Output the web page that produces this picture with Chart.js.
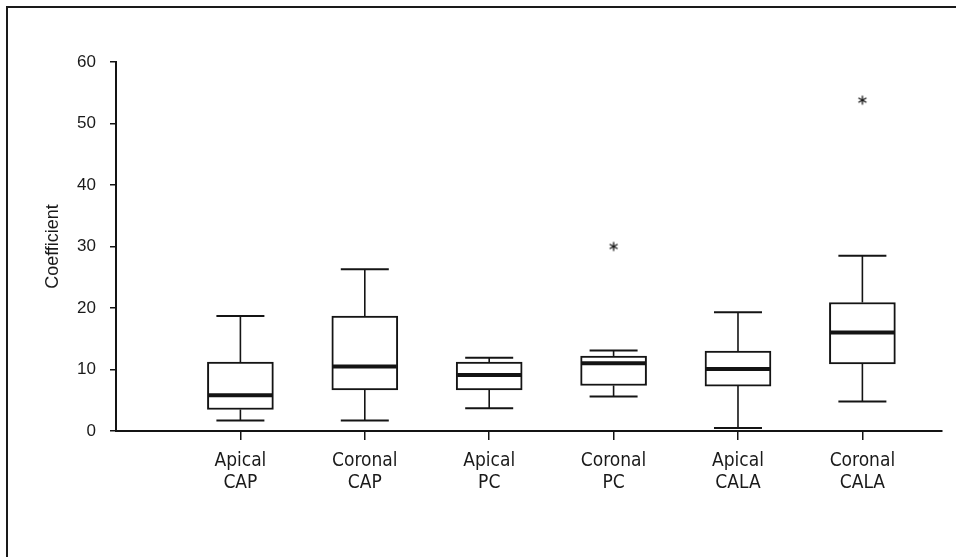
<!DOCTYPE html>
<html>
<head>
<meta charset="utf-8">
<script src="https://cdn.jsdelivr.net/npm/chart.js@4.4.1/dist/chart.umd.min.js"></script>
<style>
  html, body { margin: 0; padding: 0; background: #ffffff; overflow: hidden; }
  #wrap { position: relative; width: 956px; height: 557px; }
  #frame { position: absolute; left: 6px; top: 6px; width: 960px; height: 600px;
           border-top: 2px solid #1a1a1a; border-left: 2px solid #1a1a1a; pointer-events: none; }
  canvas { position: absolute; left: 0; top: 0; }
</style>
</head>
<body>
<div id="wrap">
  <canvas id="c" width="956" height="557"></canvas>
  <div id="frame"></div>
</div>
<script>
// ---- data ----
const categories   = ['Apical CAP', 'Coronal CAP', 'Apical PC', 'Coronal PC', 'Apical CALA', 'Coronal CALA'];
const labelLines   = [['Apical', 'CAP'], ['Coronal', 'CAP'], ['Apical', 'PC'], ['Coronal', 'PC'], ['Apical', 'CALA'], ['Coronal', 'CALA']];
const whiskerLow   = [1.7, 1.7, 3.7, 5.6, 0.5, 4.8];
const quartile1    = [3.5, 6.7, 6.7, 7.4, 7.3, 10.9];
const medians      = [5.8, 10.5, 9.1, 11.0, 10.1, 16.0];
const quartile3    = [11.2, 18.7, 11.2, 12.2, 13.0, 20.9];
const whiskerHigh  = [18.7, 26.3, 11.9, 13.1, 19.3, 28.5];
const outlierCategory = ['Coronal PC', 'Coronal CALA'];
const outlierValue    = [30.0, 53.8];
const yTicks = [0, 10, 20, 30, 40, 50, 60];
const yTitle = 'Coefficient';

// ---- build ----
const INK = '#141414';
const catPos = (name) => categories.indexOf(name) + 1;

const boxData = categories.map((c, i) => ({ x: i + 1, y: [quartile1[i], quartile3[i]] }));
const outlierData = outlierCategory.map((c, i) => ({ x: catPos(c), y: outlierValue[i] }));

// asterisk point style
const star = document.createElement('canvas');
star.width = 14; star.height = 14;
(function () {
  const g = star.getContext('2d');
  g.strokeStyle = INK; g.lineWidth = 1.3; g.lineCap = 'butt';
  const r = 4.6;
  [90, 30, -30].forEach(a => {
    const t = a * Math.PI / 180;
    g.beginPath();
    g.moveTo(7 - r * Math.cos(t), 7 - r * Math.sin(t));
    g.lineTo(7 + r * Math.cos(t), 7 + r * Math.sin(t));
    g.stroke();
  });
})();

const BOX_W = 66;
const CAP_W = 48;

const boxPlugin = {
  id: 'boxWhisker',
  beforeDatasetsDraw(chart) {
    const { ctx, scales: { x, y } } = chart;
    ctx.save();
    ctx.strokeStyle = INK;
    categories.forEach((c, i) => {
      const cx = x.getPixelForValue(i + 1);
      const pairs = [[quartile3[i], whiskerHigh[i]], [quartile1[i], whiskerLow[i]]];
      pairs.forEach(([from, to]) => {
        ctx.lineWidth = 1.6;
        ctx.beginPath();
        ctx.moveTo(cx, y.getPixelForValue(from));
        ctx.lineTo(cx, y.getPixelForValue(to));
        ctx.stroke();
        ctx.lineWidth = 2;
        ctx.beginPath();
        ctx.moveTo(cx - CAP_W / 2, y.getPixelForValue(to));
        ctx.lineTo(cx + CAP_W / 2, y.getPixelForValue(to));
        ctx.stroke();
      });
    });
    ctx.restore();
  },
  afterDatasetDraw(chart, args) {
    if (args.index !== 0) return;
    const { ctx, scales: { x, y } } = chart;
    ctx.save();
    ctx.strokeStyle = INK;
    ctx.lineWidth = 4;
    categories.forEach((c, i) => {
      const cx = x.getPixelForValue(i + 1);
      const my = y.getPixelForValue(medians[i]);
      ctx.beginPath();
      ctx.moveTo(cx - BOX_W / 2 + 1, my);
      ctx.lineTo(cx + BOX_W / 2 - 1, my);
      ctx.stroke();
    });
    ctx.restore();
  }
};

new Chart(document.getElementById('c'), {
  type: 'bar',
  data: {
    datasets: [
      {
        data: boxData,
        backgroundColor: '#ffffff',
        borderColor: INK,
        borderWidth: 2,
        borderSkipped: false,
        barThickness: BOX_W,
        grouped: false
      },
      {
        type: 'scatter',
        data: outlierData,
        pointStyle: star,
        pointRadius: 7,
        showLine: false
      }
    ]
  },
  options: {
    responsive: false,
    animation: false,
    devicePixelRatio: 1,
    layout: { padding: { top: 62, right: 14, bottom: 0, left: 0 } },
    plugins: { legend: { display: false }, tooltip: { enabled: false } },
    scales: {
      x: {
        type: 'linear',
        offset: false,
        min: 0,
        max: 6.64,
        afterFit(s) { s.height = 126; },
        afterBuildTicks(s) { s.ticks = categories.map((c, i) => ({ value: i + 1 })); },
        grid: { offset: false, drawOnChartArea: false, drawTicks: true, tickLength: 9, color: INK, lineWidth: 1.5 },
        border: { display: true, color: INK, width: 2 },
        ticks: {
          autoSkip: false,
          maxRotation: 0,
          padding: 10,
          color: '#1a1a1a',
          font: { family: "'DejaVu Sans Condensed', 'Liberation Sans', sans-serif", size: 19, lineHeight: 1.15 },
          callback: (v) => labelLines[Math.round(v) - 1] || ''
        }
      },
      y: {
        type: 'linear',
        min: 0,
        max: 60,
        afterFit(s) { s.width = 116; },
        afterBuildTicks(s) { s.ticks = yTicks.map(v => ({ value: v })); },
        grid: { drawOnChartArea: false, drawTicks: true, tickLength: 6, color: INK, lineWidth: 1.5 },
        border: { display: true, color: INK, width: 2 },
        ticks: {
          padding: 14,
          color: '#1a1a1a',
          font: { family: "'Liberation Sans', Arial, sans-serif", size: 17 }
        },
        title: {
          display: true,
          text: yTitle,
          color: '#1a1a1a',
          padding: { top: 42, bottom: 0 },
          font: { family: "'Liberation Sans', Arial, sans-serif", size: 18 }
        }
      }
    }
  },
  plugins: [boxPlugin]
});
</script>
</body>
</html>
